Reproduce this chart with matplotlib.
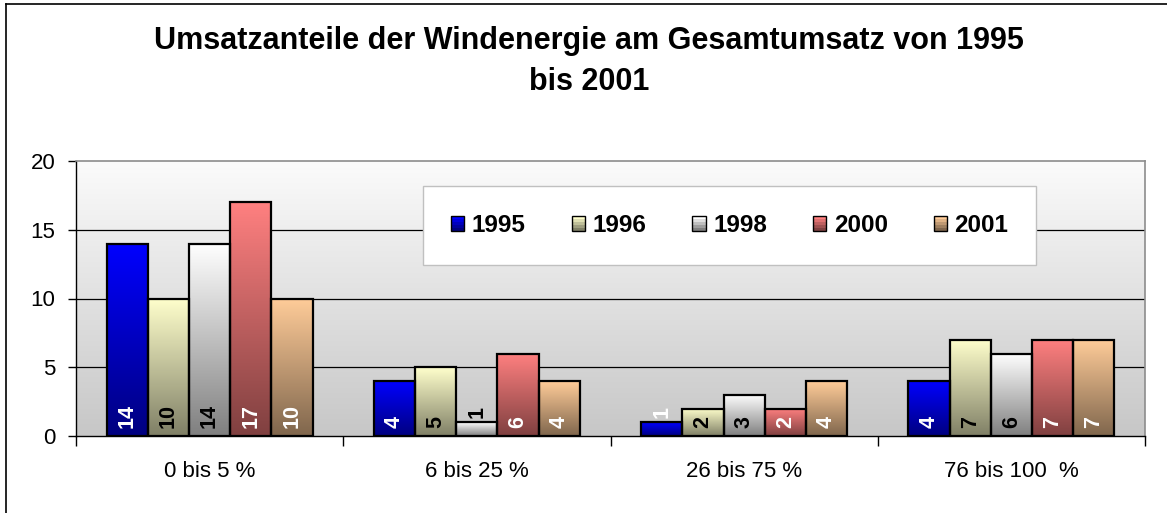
import numpy as np
import matplotlib
matplotlib.use('Agg')
import matplotlib.pyplot as plt
from matplotlib.patches import Rectangle
from matplotlib.lines import Line2D
from matplotlib.legend_handler import HandlerBase
import matplotlib.colors as mcolors

plt.rcParams['font.family'] = ['Liberation Sans', 'DejaVu Sans']

# Daten
kategorien = ['0 bis 5 %', '6 bis 25 %', '26 bis 75 %', '76 bis 100  %']
jahre = ['1995', '1996', '1998', '2000', '2001']
werte_1995 = [14, 4, 1, 4]
werte_1996 = [10, 5, 2, 7]
werte_1998 = [14, 1, 3, 6]
werte_2000 = [17, 6, 2, 7]
werte_2001 = [10, 4, 4, 7]
reihen = [werte_1995, werte_1996, werte_1998, werte_2000, werte_2001]

grundfarben = ['#0000ff', '#ffffcc', '#ffffff', '#ff8080', '#ffcc99']
textfarben = ['white', 'black', 'black', 'white', 'white']

W, H = 1167, 513


def verlauf(farbe, n=128, dunkel=0.5):
    c = np.array(mcolors.to_rgb(farbe))
    f = np.linspace(1.0, dunkel, n)[:, None]
    return (c[None, :] * f)[:, None, :]


class StreifenHandler(HandlerBase):
    def __init__(self, farbe, n=5):
        super().__init__()
        self.farbe = np.array(mcolors.to_rgb(farbe))
        self.n = n

    def create_artists(self, legend, orig_handle, xdescent, ydescent,
                       width, height, fontsize, trans):
        x0, y0 = -xdescent, -ydescent
        teile = []
        for k in range(self.n):
            f = 1 - 0.5 * k / (self.n - 1)
            r = Rectangle((x0, y0 + height * (self.n - 1 - k) / self.n),
                          width, height / self.n,
                          facecolor=self.farbe * f, edgecolor='none',
                          transform=trans)
            teile.append(r)
        teile.append(Rectangle((x0, y0), width, height, fill=False,
                               edgecolor='black', lw=1, transform=trans))
        return teile


fig = plt.figure(figsize=(W / 100, H / 100), dpi=100)
fig.patch.set_facecolor('white')
ax = fig.add_axes([76 / W, 1 - 436 / H, (1145 - 76) / W, (436 - 161) / H])
ax.set_facecolor('none')

# Hintergrundverlauf der Zeichenfläche
hg = np.linspace(0.985, 0.78, 256)[:, None, None] * np.ones((1, 1, 3))
ax.imshow(hg, extent=[0, 1, 0, 1], transform=ax.transAxes,
          aspect='auto', zorder=0)

for y in [5, 10, 15]:
    ax.axhline(y, color='black', lw=0.9, zorder=1)

x = np.arange(len(kategorien))
breite = 0.154
for i, (werte, farbe) in enumerate(zip(reihen, grundfarben)):
    xs = x + (i - 2) * breite
    for xi, v in zip(xs, werte):
        ax.imshow(verlauf(farbe), extent=[xi - breite / 2, xi + breite / 2, 0, v],
                  aspect='auto', zorder=2, interpolation='bilinear')
        ax.add_patch(Rectangle((xi - breite / 2, 0), breite, v, fill=False,
                               edgecolor='black', lw=1.6, zorder=3))
        if v >= 2:
            ax.annotate(str(v), (xi, 0), xytext=(0, 6), textcoords='offset points',
                        rotation=90, ha='center', va='bottom', fontsize=15.5,
                        fontweight='bold', color=textfarben[i], zorder=4)
        else:
            ax.annotate(str(v), (xi, v), xytext=(0, 3), textcoords='offset points',
                        rotation=90, ha='center', va='bottom', fontsize=15.5,
                        fontweight='bold', color=textfarben[i], zorder=4)

ax.set_xlim(-0.5, 3.5)
ax.set_ylim(0, 20)

ax.set_yticks([0, 5, 10, 15, 20])
ax.tick_params(axis='y', direction='out', length=6, width=1, pad=9, labelsize=16)
ax.set_xticks(x)
ax.set_xticklabels(kategorien)
ax.tick_params(axis='x', which='major', length=0, pad=18, labelsize=16)
ax.set_xticks(np.arange(-0.5, 4, 1), minor=True)
ax.tick_params(axis='x', which='minor', direction='out', length=7, width=1)

for s in ['left', 'bottom']:
    ax.spines[s].set_color('black')
    ax.spines[s].set_linewidth(1)
for s in ['top', 'right']:
    ax.spines[s].set_color('#8c8c8c')
    ax.spines[s].set_linewidth(1.2)

# Legende
griffe = [Rectangle((0, 0), 1, 1) for _ in jahre]
leg = ax.legend(griffe, jahre, ncol=5, loc='upper left',
                bbox_to_anchor=((423 - 76) / (1145 - 76), (436 - 186) / 275),
                handler_map={g: StreifenHandler(f) for g, f in zip(griffe, grundfarben)},
                prop={'size': 17.5, 'weight': 'bold'},
                handlelength=0.55, handleheight=0.55, handletextpad=0.3,
                columnspacing=1.9, borderpad=1.15, borderaxespad=0,
                frameon=True, fancybox=False, framealpha=1)
leg.get_frame().set_edgecolor('#c0c0c0')
leg.get_frame().set_linewidth(1)
leg.set_zorder(5)

fig.text(0.505, 1 - 61.5 / H,
         'Umsatzanteile der Windenergie am Gesamtumsatz von 1995\nbis 2001',
         ha='center', va='center', fontsize=22, fontweight='bold', linespacing=1.45)

# Rahmen
fig.add_artist(Line2D([6 / W, 6 / W], [0, 1 - 4 / H], color='black', lw=1.2,
                      transform=fig.transFigure))
fig.add_artist(Line2D([6 / W, 1], [1 - 4 / H, 1 - 4 / H], color='black', lw=1.2,
                      transform=fig.transFigure))

fig.savefig('out.png', dpi=100)
